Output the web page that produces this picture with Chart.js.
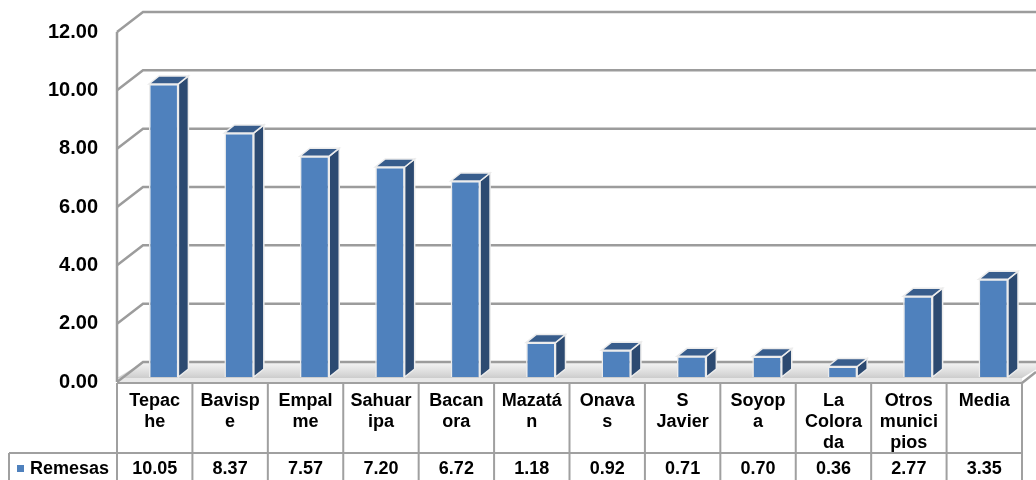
<!DOCTYPE html>
<html>
<head>
<meta charset="utf-8">
<script src="https://cdn.jsdelivr.net/npm/chart.js@4"></script>
<style>
  body { margin: 0; background: #fff; }
</style>
</head>
<body>
<canvas id="myRemesas" width="1036" height="480"></canvas>
<script>
const categories = [
  ['Tepac', 'he'], ['Bavisp', 'e'], ['Empal', 'me'], ['Sahuar', 'ipa'],
  ['Bacan', 'ora'], ['Mazatá', 'n'], ['Onava', 's'], ['S', 'Javier'],
  ['Soyop', 'a'], ['La', 'Colora', 'da'], ['Otros', 'munici', 'pios'], ['Media']
];
const remesas = [10.05, 8.37, 7.57, 7.20, 6.72, 1.18, 0.92, 0.71, 0.70, 0.36, 2.77, 3.35];
const seriesName = 'Remesas';

const FONT = '"Liberation Sans", Arial, sans-serif';
const DEPTH = { x: 26, y: -20 };   // wall depth
const BAR = { x: 10, y: -8 };      // bar depth
const SHIFT = { x: 9, y: -5 };     // bars sit a bit behind the front plane

const walls = {
  id: 'walls',
  beforeDraw(chart) {
    const { ctx, chartArea: a, scales: { y } } = chart;
    ctx.save();
    // floor
    const fy = y.getPixelForValue(0);
    const g = ctx.createLinearGradient(0, fy + DEPTH.y, 0, fy);
    g.addColorStop(0, '#f6f6f6');
    g.addColorStop(0.6, '#d8d8d8');
    g.addColorStop(1, '#c0c0c0');
    ctx.fillStyle = g;
    ctx.beginPath();
    ctx.moveTo(a.left, fy - 4);
    ctx.lineTo(a.right, fy - 4);
    ctx.lineTo(a.right + DEPTH.x, fy + DEPTH.y);
    ctx.lineTo(a.left + DEPTH.x, fy + DEPTH.y);
    ctx.closePath();
    ctx.fill();
    ctx.fillStyle = '#e8e8e8';
    ctx.fillRect(a.left, fy - 4, a.right - a.left, 5);

    ctx.strokeStyle = '#9c9c9c';
    ctx.lineWidth = 2.5;
    y.ticks.forEach(t => {
      const py = y.getPixelForValue(t.value);
      ctx.beginPath();
      ctx.moveTo(a.left, py);
      ctx.lineTo(a.left + DEPTH.x, py + DEPTH.y);
      ctx.lineTo(chart.width + 10, py + DEPTH.y);
      ctx.stroke();
    });
    ctx.beginPath();
    ctx.moveTo(a.left, a.top);
    ctx.lineTo(a.left, a.bottom);
    ctx.stroke();
    ctx.beginPath();
    ctx.moveTo(a.right, fy + 1);
    ctx.lineTo(a.right + 14, fy - 10);
    ctx.stroke();
    ctx.restore();
  },
  beforeDatasetsDraw(chart) {
    chart.ctx.save();
    chart.ctx.translate(SHIFT.x, SHIFT.y);
  },
  afterDatasetsDraw(chart) {
    const ctx = chart.ctx;
    chart.getDatasetMeta(0).data.forEach(bar => {
      const x1 = bar.x - bar.width / 2, x2 = bar.x + bar.width / 2;
      const top = bar.y, base = bar.base;
      ctx.strokeStyle = '#ececec';
      ctx.lineWidth = 1.5;
      ctx.fillStyle = '#2c4a71';
      ctx.beginPath();
      ctx.moveTo(x2, top);
      ctx.lineTo(x2 + BAR.x, top + BAR.y);
      ctx.lineTo(x2 + BAR.x, base + BAR.y);
      ctx.lineTo(x2, base);
      ctx.closePath();
      ctx.fill();
      ctx.stroke();
      ctx.fillStyle = '#385d8c';
      ctx.beginPath();
      ctx.moveTo(x1, top);
      ctx.lineTo(x2, top);
      ctx.lineTo(x2 + BAR.x, top + BAR.y);
      ctx.lineTo(x1 + BAR.x, top + BAR.y);
      ctx.closePath();
      ctx.fill();
      ctx.stroke();
    });
    ctx.restore();
  },
  afterDraw(chart) {
    const { ctx, chartArea: a, scales: { x, y } } = chart;
    const fy = y.getPixelForValue(0) + 1;
    const rowY = 453;
    const colW = (a.right - a.left) / categories.length;
    ctx.save();
    ctx.strokeStyle = '#a0a0a0';
    ctx.lineWidth = 2;
    ctx.beginPath();
    ctx.moveTo(a.left, fy); ctx.lineTo(a.right, fy);
    ctx.moveTo(9, rowY); ctx.lineTo(a.right, rowY);
    ctx.moveTo(9, rowY); ctx.lineTo(9, chart.height);
    for (let i = 0; i <= categories.length; i++) {
      const px = a.left + i * colW;
      ctx.moveTo(px, fy); ctx.lineTo(px, chart.height);
    }
    ctx.stroke();

    ctx.fillStyle = '#000';
    ctx.font = 'bold 18px ' + FONT;
    ctx.textBaseline = 'middle';
    ctx.textAlign = 'center';
    remesas.forEach((v, i) => {
      ctx.fillText(v.toFixed(2), x.getPixelForValue(i), 469);
    });
    ctx.textAlign = 'left';
    ctx.fillText(seriesName, 30, 469);
    ctx.fillStyle = '#4f81bd';
    ctx.fillRect(17, 465, 7, 7);
    ctx.restore();
  }
};

new Chart(document.getElementById('myRemesas'), {
  type: 'bar',
  data: {
    labels: categories,
    datasets: [{
      label: seriesName,
      data: remesas,
      backgroundColor: '#4f81bd',
      borderColor: '#ececec',
      borderWidth: 1.5,
      categoryPercentage: 1,
      barPercentage: 0.39,
      clip: false
    }]
  },
  options: {
    responsive: false,
    animation: false,
    layout: { padding: { top: 32, right: 14, left: 0, bottom: 0 } },
    plugins: { legend: { display: false }, tooltip: { enabled: false } },
    scales: {
      x: {
        grid: { display: false, drawTicks: false },
        border: { display: false },
        ticks: {
          color: '#000',
          font: { family: FONT, size: 18, weight: 'bold', lineHeight: 1.15 },
          padding: 9,
          maxRotation: 0,
          autoSkip: false
        },
        afterFit: s => { s.height = 98; }
      },
      y: {
        min: 0,
        max: 12,
        grid: { display: false, drawTicks: false },
        border: { display: false },
        ticks: {
          stepSize: 2,
          color: '#000',
          padding: 19,
          font: { family: FONT, size: 20, weight: 'bold' },
          callback: v => v.toFixed(2)
        },
        afterFit: s => { s.width = 117; }
      }
    }
  },
  plugins: [walls]
});
</script>
</body>
</html>
